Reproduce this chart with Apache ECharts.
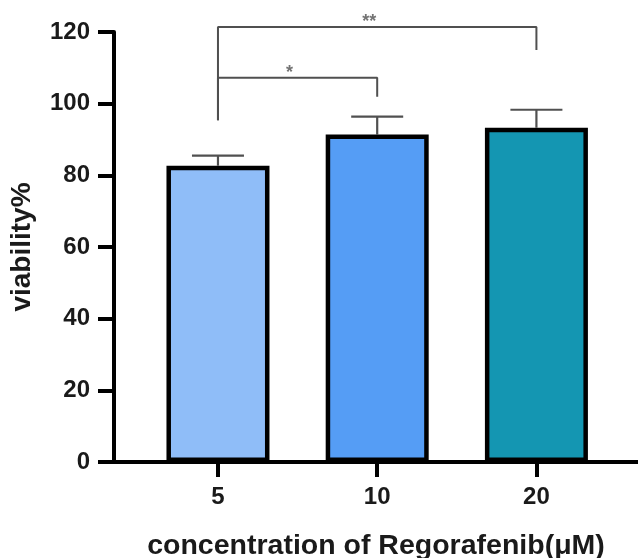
<!DOCTYPE html>
<html>
<head>
<meta charset="utf-8">
<script src="https://cdn.jsdelivr.net/npm/echarts@6/dist/echarts.min.js"></script>
<style>html,body{margin:0;padding:0;background:#fff}#c{width:638px;height:558px}</style>
</head>
<body>
<div id="c"></div>
<script>
var categories = ['5', '10', '20'];
var means = [82.7, 91.4, 93.3];
var errors = [2.8, 5.0, 5.0];
var barColors = ['#8FBDF8', '#559DF5', '#1496B2'];
var yTicks = [0, 20, 40, 60, 80, 100, 120];
// significance brackets
var bracketFrom = [0, 0];
var bracketTo = [1, 2];
var bracketLeftBottom = [95.4, 95.4];
var bracketTop = [107.2, 121.4];
var bracketRightBottom = [101.9, 115.0];
var bracketLabels = ['*', '**'];

var FONT = 'Liberation Sans, Arial, sans-serif';
var idx = categories.map(function (c, i) { return i; });

var series = [];
series.push({
  type: 'bar',
  barWidth: 103,
  data: idx.map(function (i) {
    return { value: [i, means[i]], itemStyle: { color: barColors[i] } };
  }),
  itemStyle: { borderColor: '#000', borderWidth: 4.5 },
  z: 3
});
series.push({
  type: 'custom',
  z: 2,
  data: idx.map(function (i) { return [i, means[i], means[i] + errors[i]]; }),
  renderItem: function (params, api) {
    var lo = api.coord([api.value(0), api.value(1)]);
    var hi = api.coord([api.value(0), api.value(2)]);
    var hw = 26;
    var st = { stroke: '#505050', lineWidth: 2.2 };
    return {
      type: 'group',
      children: [
        { type: 'line', shape: { x1: lo[0], y1: lo[1], x2: hi[0], y2: hi[1] }, style: st },
        { type: 'line', shape: { x1: hi[0] - hw, y1: hi[1], x2: hi[0] + hw, y2: hi[1] }, style: st }
      ]
    };
  }
});
bracketFrom.forEach(function (f, k) {
  var t = bracketTo[k];
  series.push({
    type: 'line',
    clip: false,
    symbol: 'none',
    silent: true,
    lineStyle: { color: '#505050', width: 2 },
    data: [[f, bracketLeftBottom[k]], [f, bracketTop[k]], [t, bracketTop[k]], [t, bracketRightBottom[k]]],
    z: 4
  });
  series.push({
    type: 'scatter',
    clip: false,
    symbolSize: 0,
    silent: true,
    data: [{ value: [(f + t) / 2, bracketTop[k]], name: bracketLabels[k] }],
    label: {
      show: true,
      position: 'top',
      distance: -4,
      offset: [-8, 0],
      formatter: '{b}',
      color: '#505050',
      fontSize: 18,
      fontWeight: 'bold',
      fontFamily: FONT
    },
    z: 5
  });
});

var chart = echarts.init(document.getElementById('c'), null, { renderer: 'canvas' });
chart.setOption({
  animation: false,
  backgroundColor: '#fff',
  grid: { left: 114, right: 0, top: 32, bottom: 96, containLabel: false, outerBoundsMode: 'none' },
  xAxis: {
    type: 'value',
    min: -0.653,
    max: 2.638,
    splitLine: { show: false },
    axisLine: { show: true, onZero: false, lineStyle: { color: '#000', width: 4 } },
    axisTick: { show: true, customValues: idx, length: 15, lineStyle: { color: '#000', width: 4 } },
    axisLabel: {
      customValues: idx,
      formatter: function (v) { return categories[Math.round(v)]; },
      color: '#1a1a1a', fontSize: 24, fontWeight: 'bold', fontFamily: FONT, margin: 23
    },
    name: 'concentration of Regorafenib(\u03bcM)',
    nameLocation: 'middle',
    nameGap: 70,
    nameTextStyle: { color: '#1a1a1a', fontSize: 28.5, fontWeight: 'bold', fontFamily: FONT }
  },
  yAxis: {
    type: 'value',
    min: yTicks[0],
    max: yTicks[yTicks.length - 1],
    interval: yTicks[1] - yTicks[0],
    splitLine: { show: false },
    axisLine: { show: true, onZero: false, lineStyle: { color: '#000', width: 4 } },
    axisTick: { show: true, length: 16, lineStyle: { color: '#000', width: 4 } },
    axisLabel: { color: '#1a1a1a', fontSize: 24, fontWeight: 'bold', fontFamily: FONT, margin: 24 },
    name: 'viability%',
    nameLocation: 'middle',
    nameGap: 78,
    nameRotate: 90,
    nameTextStyle: { color: '#1a1a1a', fontSize: 28, fontWeight: 'bold', fontFamily: FONT }
  },
  series: series
});
</script>
</body>
</html>
